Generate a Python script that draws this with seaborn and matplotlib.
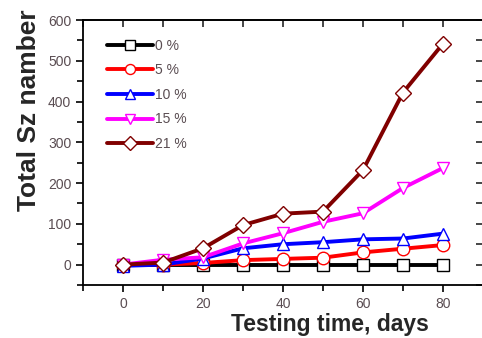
import matplotlib
matplotlib.use("Agg")
import matplotlib.pyplot as plt
import seaborn as sns
import numpy as np
from matplotlib.ticker import MultipleLocator, NullFormatter

days = [0, 10, 20, 30, 40, 50, 60, 70, 80]
s0 = [0, 0, 0, 0, 0, 0, 0, 0, 0]
s5 = [0, 0, 4, 11, 14, 17, 30, 39, 48]
s10 = [-3, 0, 15, 40, 50, 55, 62, 64, 76]
s15 = [0, 12, 18, 52, 77, 105, 126, 188, 237]
s21 = [0, 5, 40, 97, 125, 130, 232, 422, 542]
labels = ["0 %", "5 %", "10 %", "15 %", "21 %"]
colors = ["#000000", "#ff0000", "#0000ff", "#ff00ff", "#800000"]
markers = ["s", "o", "^", "v", "D"]

sns.set_style("ticks")
plt.rcParams["font.family"] = ["Liberation Sans", "DejaVu Sans"]

fig = plt.figure(figsize=(4.82, 3.38), dpi=100)
ax = fig.add_axes([83 / 482, 1 - 285 / 338, 400 / 482, 265 / 338])

series = [s0, s5, s10, s15, s21]
msizes = [8.5, 9, 9, 9, 8.5]
for ys, lab, c, m, ms in zip(series, labels, colors, markers, msizes):
    sns.lineplot(x=days, y=ys, ax=ax, color=c, marker=m, markersize=ms,
                 markerfacecolor="white", markeredgecolor=c, markeredgewidth=1.0,
                 linewidth=2.8, label=lab)

ax.set_xlim(-10, 90)
ax.set_ylim(-50, 600)
ax.xaxis.set_major_locator(MultipleLocator(20))
ax.xaxis.set_minor_locator(MultipleLocator(10))
ax.yaxis.set_major_locator(MultipleLocator(100))
ax.yaxis.set_minor_locator(MultipleLocator(50))
ax.tick_params(which="both", top=False, right=False, width=1.2, colors="black",
               labelcolor="#5a4d52", labelsize=10, direction="out")
ax.tick_params(which="major", length=5)
ax.tick_params(which="minor", length=4)
for sp in ax.spines.values():
    sp.set_linewidth(1.3)
    sp.set_color("black")

# inward ticks on top and right
top = ax.secondary_xaxis("top")
top.xaxis.set_major_locator(MultipleLocator(10))
top.xaxis.set_major_formatter(NullFormatter())
top.tick_params(direction="in", length=5, width=1.2)
top.spines["top"].set_linewidth(1.3)
right = ax.secondary_yaxis("right")
right.yaxis.set_major_locator(MultipleLocator(50))
right.yaxis.set_major_formatter(NullFormatter())
right.tick_params(direction="in", length=5, width=1.2)
right.spines["right"].set_linewidth(1.3)

ax.set_xlabel("Testing time, days", fontsize=16.5, fontweight="bold")
ax.set_ylabel("Total Sz namber", fontsize=19, fontweight="bold")
ax.xaxis.set_label_coords(0.6175, -0.106)
ax.yaxis.set_label_coords(-0.106, 0.66)

leg = ax.legend(loc="upper left", frameon=False, handlelength=3.3, fontsize=10,
                bbox_to_anchor=(0.035, 0.966), labelspacing=0.76, handletextpad=0.15,
                borderaxespad=0.3, markerscale=0.8)
for t in leg.get_texts():
    t.set_color("#5a4d52")

fig.savefig("out.png", dpi=100)
